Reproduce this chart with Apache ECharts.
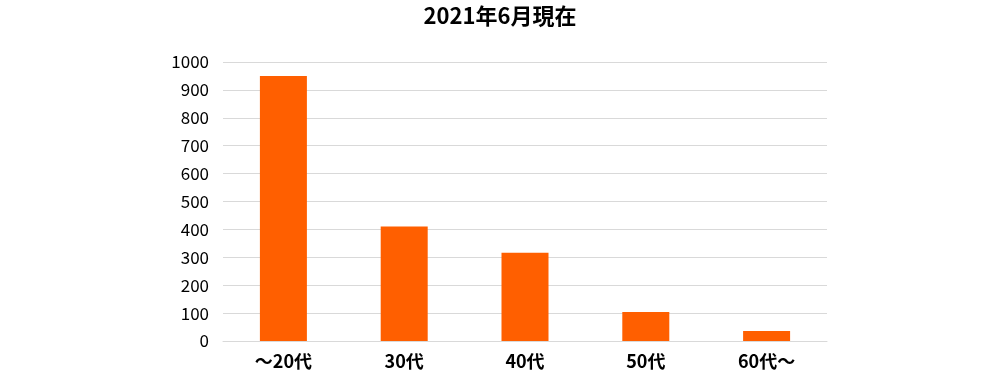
<!DOCTYPE html>
<html><head><meta charset="utf-8">
<script src="https://cdn.jsdelivr.net/npm/echarts@6/dist/echarts.min.js"></script>
<style>html,body{margin:0;padding:0;background:#fff}#c{width:1000px;height:378px}</style>
</head><body><div id="c"></div>
<script>
const categories = ['～20代', '30代', '40代', '50代', '60代～'];
const values = [950, 410, 316, 104, 36];
const titleText = '2021年6月現在';
const font = '"Noto Sans CJK JP", "Noto Sans", sans-serif';
const chart = echarts.init(document.getElementById('c'));
chart.setOption({
  animation: false,
  title: { text: titleText, left: 'center', top: 0, textStyle: { fontFamily: font, fontSize: 22, fontWeight: 'bold', color: '#000' } },
  grid: { left: 223, right: 173, top: 62, bottom: 37 },
  xAxis: {
    type: 'category', data: categories,
    axisLine: { lineStyle: { color: '#d9d9d9' } },
    axisTick: { show: false },
    axisLabel: { fontFamily: font, fontSize: 18, fontWeight: 'bold', color: '#000', margin: 11 }
  },
  yAxis: {
    type: 'value', min: 0, max: 1000, interval: 100,
    axisLine: { show: false }, axisTick: { show: false },
    splitLine: { lineStyle: { color: '#d9d9d9' } },
    axisLabel: { fontFamily: font, fontSize: 17, color: '#000', margin: 14, formatter: v => String(v) }
  },
  series: [{ type: 'bar', data: values, barWidth: 47, itemStyle: { color: '#ff5f00' } }]
});
</script></body></html>
